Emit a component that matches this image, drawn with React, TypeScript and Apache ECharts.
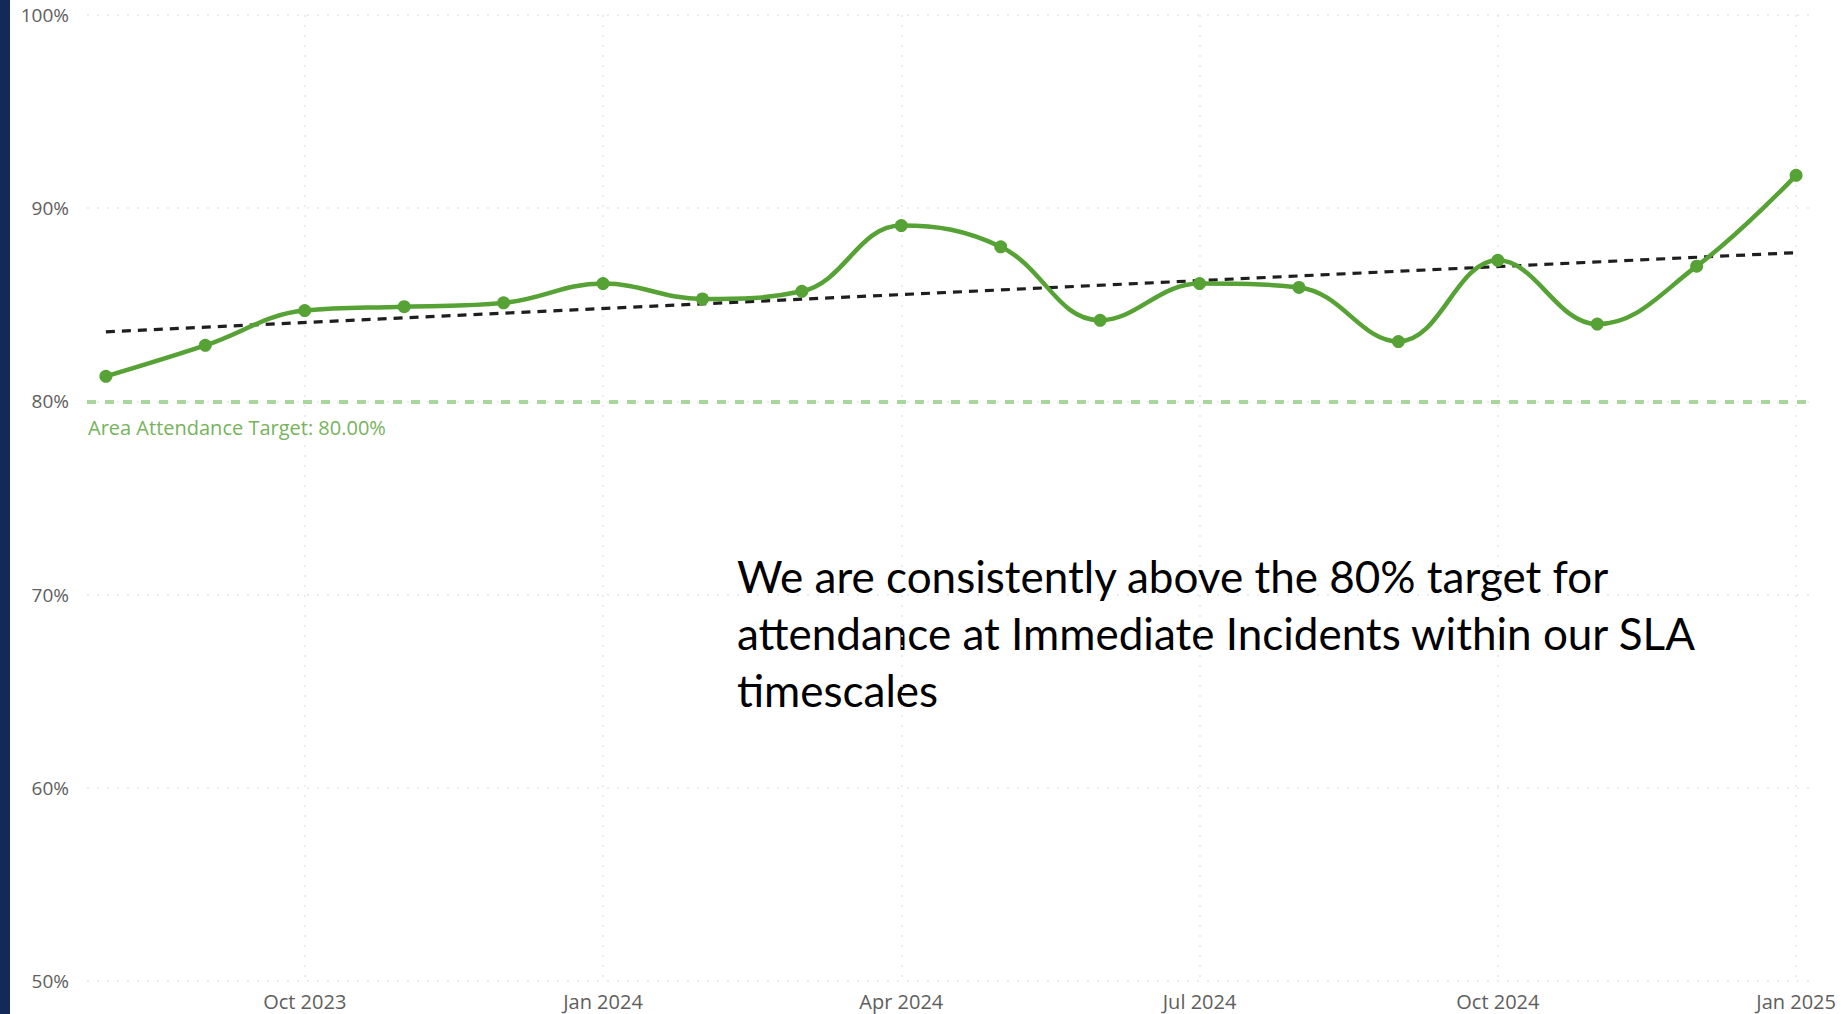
import React, { useEffect, useRef } from "react";
import * as echarts from "echarts";

const months = [
  "Aug 2023", "Sep 2023", "Oct 2023", "Nov 2023", "Dec 2023", "Jan 2024",
  "Feb 2024", "Mar 2024", "Apr 2024", "May 2024", "Jun 2024", "Jul 2024",
  "Aug 2024", "Sep 2024", "Oct 2024", "Nov 2024", "Dec 2024", "Jan 2025",
];
const attendance = [
  81.3, 82.9, 84.7, 84.9, 85.1, 86.1, 85.3, 85.7, 89.1, 88.0, 84.2, 86.1,
  85.9, 83.1, 87.3, 84.0, 87.0, 91.7,
];
const trendEnds = [83.6, 87.7];
const tickIndices = [2, 5, 8, 11, 14, 17];
const targetValue = 80;
const targetLabel = "Area Attendance Target: 80.00%";
const note =
  "We are consistently above the 80% target for\nattendance at Immediate Incidents within our SLA\ntimescales";

export default function App() {
  const ref = useRef<HTMLDivElement>(null);
  useEffect(() => {
    if (!ref.current) return;
    const chart = echarts.init(ref.current, undefined, { renderer: "svg" });
    const labelFont = "'Open Sans', 'Noto Sans', sans-serif";
    chart.setOption({
      animation: false,
      backgroundColor: "#ffffff",
      grid: { left: 87, right: 29, top: 15, bottom: 33, containLabel: false },
      xAxis: {
        type: "value",
        min: -0.19,
        max: 17.19,
        axisLine: { show: false },
        axisTick: { show: false, customValues: tickIndices },
        axisLabel: {
          customValues: tickIndices,
          formatter: (v: number) => months[Math.round(v)] || "",
          color: "#605E5C",
          fontFamily: labelFont,
          fontSize: 20,
          margin: 10,
        },
        splitLine: {
          show: true,
          lineStyle: { color: "#E4E6F0", type: [2, 8], width: 1.5 },
        },
      },
      yAxis: {
        type: "value",
        min: 50,
        max: 100,
        interval: 10,
        axisLine: { show: false },
        axisTick: { show: false },
        axisLabel: {
          formatter: "{value}%",
          color: "#605E5C",
          fontFamily: labelFont,
          fontSize: 19,
          margin: 18,
        },
        splitLine: {
          show: true,
          lineStyle: { color: "#E4E6F0", type: [2, 8], width: 1.5 },
        },
      },
      series: [
        {
          type: "line",
          name: "Trend",
          data: [
            [0, trendEnds[0]],
            [months.length - 1, trendEnds[1]],
          ],
          symbol: "none",
          lineStyle: { color: "#1E1E1E", width: 3.2, type: [9, 7] },
          z: 3,
        },
        {
          type: "line",
          name: "Attendance",
          data: attendance.map((v, i) => [i, v]),
          smooth: 0.4,
          symbol: "circle",
          symbolSize: 13,
          itemStyle: { color: "#56A235" },
          lineStyle: { color: "#56A235", width: 4.5 },
          z: 4,
          markLine: {
            silent: true,
            symbol: "none",
            lineStyle: { color: "#A9D69C", width: 4, type: [9, 9] },
            label: {
              show: true,
              position: "insideStartBottom",
              formatter: targetLabel,
              color: "#76B35B",
              fontFamily: labelFont,
              fontSize: 20,
              distance: [1, 16],
            },
            data: [{ yAxis: targetValue }],
          },
        },
      ],
      graphic: [
        {
          type: "rect",
          left: 0,
          top: 0,
          shape: { width: 10, height: 1014 },
          style: { fill: "#132A57" },
        },
        {
          type: "text",
          left: 737,
          top: 547,
          style: {
            text: note,
            fill: "#000000",
            font: "44px Lato, 'Open Sans', sans-serif",
            lineHeight: 57,
          },
        },
      ],
    });
    return () => chart.dispose();
  }, []);
  return (
    <div
      ref={ref}
      style={{ position: "fixed", left: 0, top: 0, width: 1844, height: 1014 }}
    />
  );
}
